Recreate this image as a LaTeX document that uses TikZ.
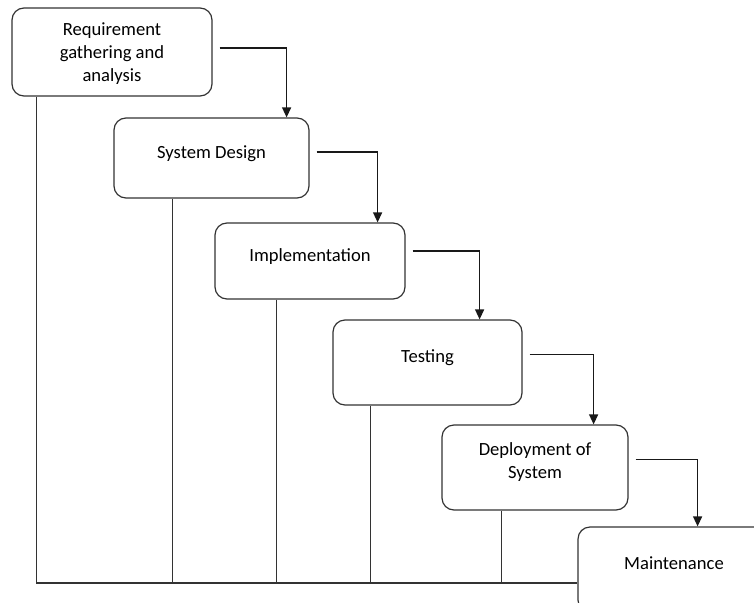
\documentclass[tikz,border=0pt]{standalone}
\usepackage{fontspec}
\setmainfont{Carlito}
\usepackage{tikz}
\usetikzlibrary{positioning,arrows.meta,calc}

\tikzset{
    stage/.style={draw=black!80, line width=1.2pt, rounded corners=12pt, align=center,
        font=\fontsize{18.6}{23}\selectfont, text height=13pt, text depth=13pt},
    flow/.style={-{Triangle[length=10pt,width=9pt]}, line width=1.2pt, black!90, shorten <=7pt},
    link/.style={line width=1.3pt, black!80}
}

\begin{document}
\begin{tikzpicture}[x=1pt,y=-1pt]
        \useasboundingbox (0,0) rectangle (754,602);
        % stages of the waterfall
        \node[stage, text height=59pt, text depth=-3pt, minimum width=200pt, minimum height=88pt] (req) at (112,52) {Requirement\\gathering and\\analysis};
        \node[stage, minimum width=195pt, minimum height=80pt] (des) at (211.5,158) {System Design};
        \node[stage, minimum width=190pt, minimum height=76pt] (imp) at (310,261) {Implementation};
        \node[stage, minimum width=189pt, minimum height=85pt] (tst) at (427.5,362.5) {Testing};
        \node[stage, text height=36pt, text depth=15pt, minimum width=186pt, minimum height=85pt] (dep) at (535,467.5) {Deployment of\\System};
        \node[stage, minimum width=192pt, minimum height=85pt] (mnt) at (674,569.5) {Maintenance};
        % flow down the steps
        \draw[flow] ([yshift=4pt]req.east) -| ([xshift=-23pt]des.north east);
        \draw[flow] ([yshift=6pt]des.east) -| ([xshift=-28pt]imp.north east);
        \draw[flow] ([yshift=10pt]imp.east) -| ([xshift=-43pt]tst.north east);
        \draw[flow] ([yshift=8pt]tst.east) -| ([xshift=-35pt]dep.north east);
        \draw[flow] ([yshift=8pt]dep.east) -| ([xshift=-73pt]mnt.north east);
        % feedback lines along the bottom
        \coordinate (base) at (38,583);
        \draw[link] ([xshift=25pt]req.south west) |- (base -| mnt.west);
        \foreach \n/\dx in {des/59,imp/62,tst/38,dep/60}{\draw[link] ([xshift=\dx pt]\n.south west) coordinate (top) -- (top |- base);}
    \end{tikzpicture}
\end{document}
